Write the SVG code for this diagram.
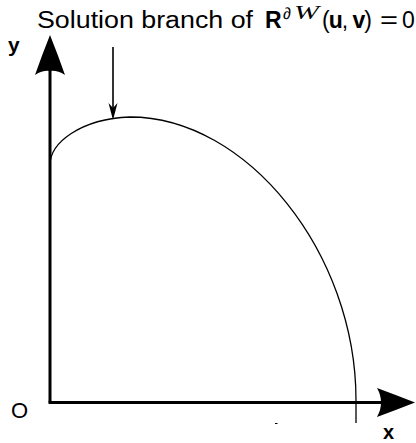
<svg xmlns="http://www.w3.org/2000/svg" width="416" height="443" viewBox="0 0 416 443">
<style>
.t{font-family:"Liberation Sans","DejaVu Sans",sans-serif;fill:#000}
.b{font-weight:bold}
.ax{stroke:#000;stroke-width:3;fill:none}
</style>
<rect width="416" height="443" fill="#fff"/>
<g id="title">
<text class="t" x="37" y="28" font-size="23" textLength="216" lengthAdjust="spacingAndGlyphs">Solution branch of</text>
<text class="t b" x="265" y="28" font-size="23">R</text>
<text class="t" x="283" y="19" font-size="16">∂</text>
<text x="294" y="19" font-size="19" font-style="italic" font-family="Liberation Serif, serif" textLength="25" lengthAdjust="spacingAndGlyphs">W</text>
<text class="t" x="322" y="28" font-size="23" textLength="50" lengthAdjust="spacing">(<tspan class="b">u</tspan>, <tspan class="b">v</tspan>)</text>
<text class="t" x="380" y="28" font-size="23" textLength="18" lengthAdjust="spacingAndGlyphs">=</text>
<text class="t" x="402" y="28" font-size="23">0</text>
</g>
<g id="axes">
<line class="ax" x1="50" y1="402.5" x2="50" y2="70"/>
<line class="ax" x1="48.5" y1="402.5" x2="382" y2="402.5"/>
<path d="M50,35 Q58,55 65,75 Q57,70 50,71 Q43,70 35,75 Q42,55 50,35 Z" fill="#000"/>
<path d="M415,402.5 Q396,410 377,417 Q381,410 381,402.5 Q381,395 377,388 Q396,395 415,402.5 Z" fill="#000"/>
<text class="t b" x="8" y="52" font-size="21">y</text>
<text class="t b" x="383" y="439" font-size="20">x</text>
<text class="t" x="11" y="418" font-size="22">O</text>
</g>
<g id="curve">
<path d="M50,165 C50,143 80,119 130,117 C247,117 356,253 356,400 L356,423" fill="none" stroke="#000" stroke-width="1.3"/>
<line x1="275" y1="423.5" x2="277.5" y2="423.5" stroke="#000" stroke-width="1"/>
</g>
<g id="pointer">
<line x1="113" y1="47" x2="113" y2="110" stroke="#000" stroke-width="1.6"/>
<path d="M113,120 L108.5,103 L113,108 L117.5,103 Z" fill="#000"/>
</g>
</svg>
